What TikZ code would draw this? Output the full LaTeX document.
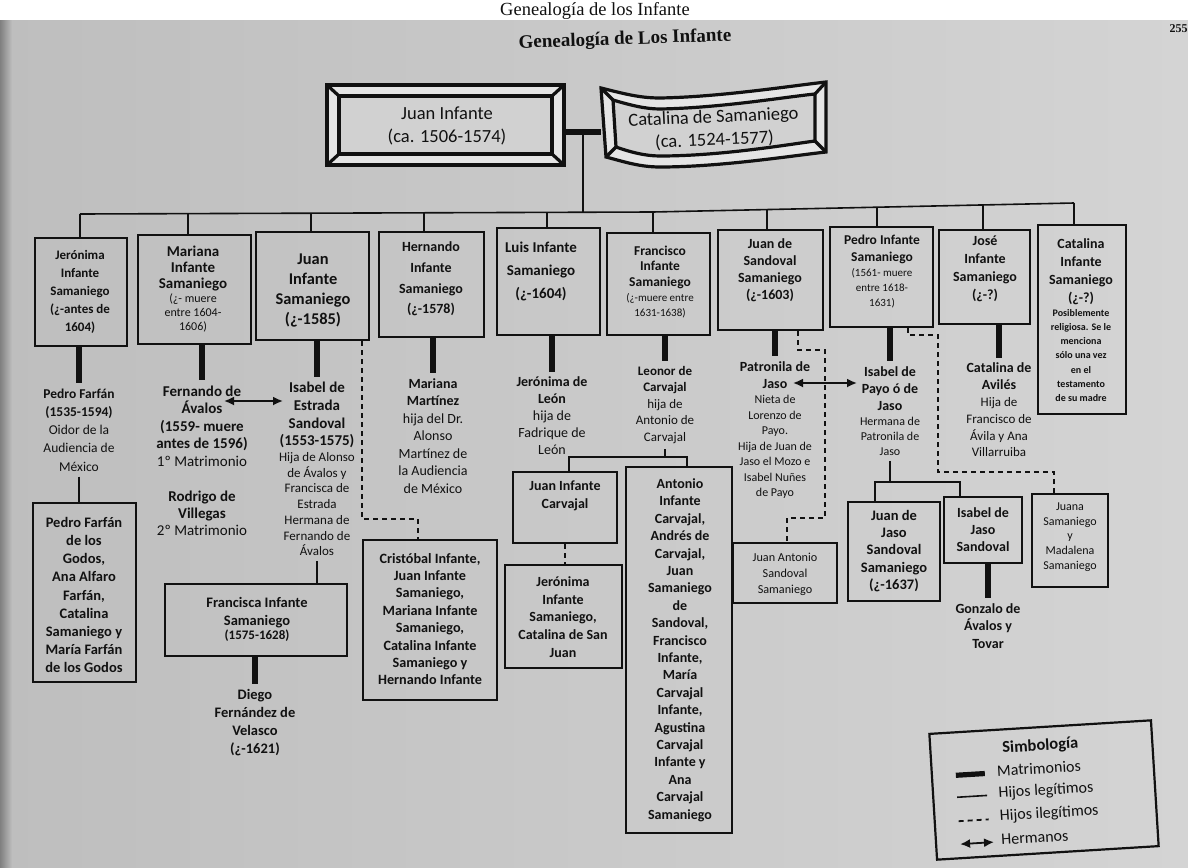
\documentclass[tikz,border=0pt]{standalone}
\usepackage{fontspec}
\setmainfont{Carlito}
\newfontfamily\capserif{Liberation Serif}
\usetikzlibrary{fit,arrows.meta}
\newcommand\myfs[2]{\fontsize{#1pt}{#2pt}\selectfont}
\definecolor{bgl}{HTML}{BEBEBE}
\definecolor{bgr}{HTML}{D4D4D4}
\definecolor{ink}{HTML}{111111}
\begin{document}
\begin{tikzpicture}[x=0.5pt,y=-0.5pt,
  bx/.style={draw=ink,line width=1.1pt,inner sep=0pt},
  tx/.style={align=flush center,text width=75pt,inner sep=2.5pt,font=\bfseries,text=ink},
  leg/.style={draw=ink,line width=0.8pt},
  mat/.style={draw=ink,line width=2.6pt},
  ileg/.style={draw=ink,line width=0.9pt,dash pattern=on 2.5pt off 2pt},
  her/.style={draw=ink,line width=0.9pt,{Latex[length=5pt,width=4.5pt]}-{Latex[length=5pt,width=4.5pt]}},
  frame/.style={draw=ink,line width=1.6pt,line join=miter}]
\useasboundingbox (0,0) rectangle (1188,867);
\fill[white] (0,0) rectangle (1188,867);
\shade[left color=bgl,right color=bgr] (0,20) rectangle (1188,867);
\shade[left color=black!50,right color=bgl] (0,20) rectangle (12,867);

% captions
\node[font=\capserif\myfs{9.25}{11},anchor=base,inner sep=0pt,text=ink] (cap) at (595,15) {Genealogía de los Infante};
\node[font=\capserif\bfseries\myfs{6}{7},anchor=east,inner sep=0pt,text=ink] (pg) at (1188,29) {255};
\node[font=\capserif\bfseries\myfs{9.5}{11},rotate=2,inner sep=0pt,text=ink] (title) at (625,40) {Genealogía de Los Infante};

% parents: Juan Infante
\fill[white!90!black] (327,85) rectangle (564,165);
\fill[white!82!black] (339,96) rectangle (552,154);
\node[frame,fit={(327,85) (564,165)},inner sep=0pt] (p1) {};
\draw[frame] (339,96) rectangle (552,154);
\draw[frame] (327,85) -- (339,96) (564,85) -- (552,96) (564,165) -- (552,154) (327,165) -- (339,154);
\node[tx,font=\mdseries,text width=110pt] (p1t) at (447,126) {\myfs{9.25}{11.5}Juan Infante\\(ca. 1506-1574)\par};

% parents: Catalina de Samaniego
\node[inner sep=0pt,fit={(601,82) (826,167)}] (p2) {};
\filldraw[frame,fill=white!90!black] (601,88) .. controls (625,94) and (640,98) .. (660,98) .. controls (720,97) and (790,86) .. (826,82) -- (826,152) .. controls (790,156) and (720,167) .. (660,167) .. controls (640,167) and (625,162) .. (606,157) -- cycle;
\filldraw[frame,fill=white!82!black] (613,100) .. controls (630,105) and (645,109) .. (660,109) .. controls (720,108) and (785,97) .. (815,94) -- (815,141) .. controls (785,145) and (720,156) .. (660,156) .. controls (645,156) and (630,152) .. (616,147) -- cycle;
\draw[frame] (601,88) -- (613,100) (826,82) -- (815,94) (826,152) -- (815,141) (606,157) -- (616,147);
\node[tx,font=\mdseries,text width=110pt,rotate=2.5] (p2t) at (714,129) {\myfs{9.25}{11.5}Catalina de Samaniego\\(ca. 1524-1577)\par};

% bar coordinates
\coordinate (pm) at (583,132);
\coordinate (bt) at (583,212.2);
\coordinate (d1) at (80,214);
\coordinate (d2) at (188,213.6);
\coordinate (d3) at (311,213.2);
\coordinate (d4) at (424,212.8);
\coordinate (d5) at (547,212.4);
\coordinate (d6) at (653,212);
\coordinate (d7) at (767,209.6);
\coordinate (d8) at (877,207.2);
\coordinate (d9) at (983,204.9);
\coordinate (d10) at (1074,203);

% children boxes
\node[bx,fit={(35,238) (127,346)}] (c1) {};
\node[tx] (t1) at (80,292) {\myfs{6.5}{9}Jerónima\\Infante\\Samaniego\\(¿-antes de\\1604)\par};
\node[bx,fit={(138,235) (251,344)}] (c2) {};
\node[tx] (t2) at (193,289) {\myfs{7.5}{8}Mariana\\Infante\\Samaniego\\\mdseries\myfs{6}{7}(¿- muere\\entre 1604-\\1606)\par};
\node[bx,fit={(256,232) (369,340)}] (c3) {};
\node[tx] (t3) at (313,291) {\myfs{8.2}{10}Juan\\Infante\\Samaniego\\(¿-1585)\par};
\node[bx,fit={(379,232) (484,337)}] (c4) {};
\node[tx] (t4) at (431,279) {\myfs{7}{10.3}Hernando\\Infante\\Samaniego\\(¿-1578)\par};
\node[bx,fit={(497,228) (600,335)}] (c5) {};
\node[tx] (t5) at (541,271) {\myfs{7.5}{11.5}Luis Infante\\Samaniego\\(¿-1604)\par};
\node[bx,fit={(607,233) (710,335)}] (c6) {};
\node[tx] (t6) at (660,282) {\myfs{6.75}{7.75}Francisco\\Infante\\Samaniego\\\mdseries\myfs{5.5}{7.5}(¿-muere entre\\1631-1638)\par};
\node[bx,fit={(718,230) (823,330)}] (c7) {};
\node[tx] (t7) at (770,270) {\myfs{7}{8.5}Juan de\\Sandoval\\Samaniego\\(¿-1603)\par};
\node[bx,fit={(830,227) (933,327)}] (c8) {};
\node[tx] (t8) at (882,272) {\myfs{6.75}{8.5}Pedro Infante\\Samaniego\\\mdseries\myfs{5.5}{7.5}(1561- muere\\entre 1618-\\1631)\par};
\node[bx,fit={(939,230) (1030,324)}] (c9) {};
\node[tx] (t9) at (985,269) {\myfs{7}{9}José\\Infante\\Samaniego\\(¿-?)\par};
\node[bx,fit={(1038,225) (1126,414)}] (c10) {};
\node[tx] (t10) at (1081,320) {\myfs{7}{9}Catalina\\Infante\\Samaniego\\(¿-?)\\\myfs{5}{7.1}Posiblemente\\religiosa. Se le\\menciona\\sólo una vez\\en el\\testamento\\de su madre\par};

% spouses
\node[tx] (s1) at (79,430) {\myfs{6.75}{9.1}Pedro Farfán\\(1535-1594)\\\mdseries Oidor de la\\Audiencia de\\México\par};
\node[tx] (s2) at (202,426) {\myfs{7.5}{8.75}Fernando de\\Ávalos\\(1559- muere\\antes de 1596)\\\mdseries 1º Matrimonio\par};
\node[tx] (s2b) at (202,513) {\myfs{7.5}{8.5}Rodrigo de\\Villegas\\\mdseries 2º Matrimonio\par};
\node[tx] (s3) at (317,469) {\myfs{7.5}{8.85}Isabel de\\Estrada\\Sandoval\\(1553-1575)\\\mdseries\myfs{6.5}{7.85}Hija de Alonso\\de Ávalos y\\Francisca de\\Estrada\\Hermana de\\Fernando de\\Ávalos\par};
\node[tx] (s4) at (433,436) {\myfs{7}{8.75}Mariana\\Martínez\\\mdseries hija del Dr.\\Alonso\\Martínez de\\la Audiencia\\de México\par};
\node[tx] (s5) at (552,416) {\myfs{7}{8.5}Jerónima de\\León\\\mdseries hija de\\Fadrique de\\León\par};
\node[tx] (s6) at (665,405) {\myfs{6.5}{8.25}Leonor de\\Carvajal\\\mdseries hija de\\Antonio de\\Carvajal\par};
\node[tx] (s7) at (775,430) {\myfs{7}{8.5}Patronila de\\Jaso\\\mdseries\myfs{6}{7.75}Nieta de\\Lorenzo de\\Payo.\\Hija de Juan de\\Jaso el Mozo e\\Isabel Nuñes\\de Payo\par};
\node[tx] (s8) at (890,411) {\myfs{7}{8.5}Isabel de\\Payo ó de\\Jaso\\\mdseries\myfs{6}{7.5}Hermana de\\Patronila de\\Jaso\par};
\node[tx] (s9) at (999,410) {\myfs{7}{8.4}Catalina de\\Avilés\\\mdseries\myfs{6.5}{8.4}Hija de\\Francisco de\\Ávila y Ana\\Villarruiba\par};
\node[tx] (s10) at (255,723) {\myfs{7.25}{9}Diego\\Fernández de\\Velasco\\(¿-1621)\par};
\node[tx] (s11) at (988,626) {\myfs{7}{8.75}Gonzalo de\\Ávalos y\\Tovar\par};

% grandchildren
\node[bx,fit={(33,503) (136,682)}] (g1) {};
\node[tx] (u1) at (84,595) {\myfs{7.25}{9.05}Pedro Farfán\\de los\\Godos,\\Ana Alfaro\\Farfán,\\Catalina\\Samaniego y\\María Farfán\\de los Godos\par};
\node[bx,fit={(165,584) (347,656)}] (g2) {};
\node[tx] (u2) at (257,619) {\myfs{7.25}{9}Francisca Infante\\Samaniego\\\myfs{6.5}{7}(1575-1628)\par};
\node[bx,fit={(363,540) (497,700)}] (g3) {};
\node[tx] (u3) at (430,619) {\myfs{7.1}{8.7}Cristóbal Infante,\\Juan Infante\\Samaniego,\\Mariana Infante\\Samaniego,\\Catalina Infante\\Samaniego y\\Hernando Infante\par};
\node[bx,fit={(513,472) (617,543)}] (g4) {};
\node[tx] (u4) at (565,496) {\myfs{7}{9}Juan Infante\\Carvajal\par};
\node[bx,fit={(626,467) (732,833)}] (g5) {};
\node[tx] (u5) at (680,650) {\myfs{7}{8.7}Antonio\\Infante\\Carvajal,\\Andrés de\\Carvajal,\\Juan\\Samaniego\\de\\Sandoval,\\Francisco\\Infante,\\María\\Carvajal\\Infante,\\Agustina\\Carvajal\\Infante y\\Ana\\Carvajal\\Samaniego\par};
\node[bx,fit={(505,565) (622,668)}] (g6) {};
\node[tx] (u6) at (563,617) {\myfs{7}{8.85}Jerónima\\Infante\\Samaniego,\\Catalina de San\\Juan\par};
\node[bx,fit={(733,543) (837,603)}] (g7) {};
\node[tx] (u7) at (785,574) {\mdseries\myfs{6.1}{8}Juan Antonio\\Sandoval\\Samaniego\par};
\node[bx,fit={(848,502) (940,601)}] (g8) {};
\node[tx] (u8) at (894,551) {\myfs{7.25}{8.6}Juan de\\Jaso\\Sandoval\\Samaniego\\(¿-1637)\par};
\node[bx,fit={(944,497) (1022,563)}] (g9) {};
\node[tx] (u9) at (983,530) {\myfs{7}{8.5}Isabel de\\Jaso\\Sandoval\par};
\node[bx,fit={(1032,494) (1108,587)}] (g10) {};
\node[tx] (u10) at (1070,537) {\mdseries\myfs{6}{7.4}Juana\\Samaniego\\y\\Madalena\\Samaniego\par};

% parents' marriage and descent bar
\draw[mat] (p1.east |- pm) -- (p2.west |- pm);
\draw[leg] (pm) -- (bt);
\draw[leg] (d1) -- (d6) -- (d10);
\foreach \i in {1,...,10} \draw[leg] (d\i) -- (d\i |- c\i.north);

% marriages
\foreach \a/\b in {c1/s1,c2/s2,c3/s3,c4/s4,c5/s5,c6/s6,c7/s7,c8/s8,c9/s9,g2/s10,g9/s11}
  \draw[mat] (\a.south -| \b.north) -- (\b.north);

% legitimate children
\draw[leg] (s1.south) -- (s1.south |- g1.north);
\draw[leg] (s3.south) -- (s3.south |- g2.north);
\coordinate (lb1) at (569,457);
\coordinate (lb2) at (687,457);
\draw[leg] (s6.south) -- (s6.south |- lb1);
\draw[leg] (lb1 |- g4.north) -- (lb1) -- (lb2) -- (lb2 |- g5.north);
\coordinate (ib1) at (875,482);
\coordinate (ib2) at (960,482);
\draw[leg] (s8.south) -- (s8.south |- ib1);
\draw[leg] (ib1 |- g8.north) -- (ib1) -- (ib2) -- (ib2 |- g9.north);

% illegitimate children
\coordinate (jd1) at (362,519);
\coordinate (jd2) at (418,519);
\draw[ileg] (c3.south -| jd1) -- (jd1) -- (jd2) -- (jd2 |- g3.north);
\draw[ileg] (g4.south) -- (g4.south |- g6.north);
\coordinate (sd1) at (798,350);
\coordinate (sd2) at (825,350);
\coordinate (sd3) at (825,518);
\coordinate (sd4) at (787,518);
\draw[ileg] (c7.south -| sd1) -- (sd1) -- (sd2) -- (sd3) -- (sd4) -- (sd4 |- g7.north);
\coordinate (pd1) at (908,335);
\coordinate (pd2) at (938,335);
\coordinate (pd3) at (938,472);
\coordinate (pd4) at (1054,472);
\draw[ileg] (c8.south -| pd1) -- (pd1) -- (pd2) -- (pd3) -- (pd4) -- (pd4 |- g10.north);

% siblings
\coordinate (a1) at (224,401);
\coordinate (a2) at (283,401);
\draw[her] (a1) -- (a2);
\coordinate (a3) at (793,383);
\coordinate (a4) at (857,383);
\draw[her] (a3) -- (a4);

% legend
\begin{scope}[rotate around={3.5:(1044,790)}]
\node[draw=ink,line width=1.1pt,minimum width=111pt,minimum height=63pt,inner sep=0pt,transform shape] (lg) at (1044,790) {};
\node[font=\bfseries,text=ink,inner sep=0pt,transform shape] (lt) at (1043,746) {\myfs{8.25}{10}Simbología};
\node[anchor=west,inner sep=0pt,text=ink,transform shape] (l1) at (998,768) {\myfs{8}{10}Matrimonios};
\node[anchor=west,inner sep=0pt,text=ink,transform shape] (l2) at (998,791) {\myfs{8}{10}Hijos legítimos};
\node[anchor=west,inner sep=0pt,text=ink,transform shape] (l3) at (998,814) {\myfs{8}{10}Hijos ilegítimos};
\node[anchor=west,inner sep=0pt,text=ink,transform shape] (l4) at (998,837) {\myfs{8}{10}Hermanos};
\coordinate (k1a) at (957,770); \coordinate (k1b) at (986,770);
\coordinate (k2a) at (957,792); \coordinate (k2b) at (987,792);
\coordinate (k3a) at (957,816); \coordinate (k3b) at (987,816);
\coordinate (k4a) at (957,839); \coordinate (k4b) at (991,839);
\draw[mat] (k1a) -- (k1b);
\draw[leg] (k2a) -- (k2b);
\draw[ileg] (k3a) -- (k3b);
\draw[her] (k4a) -- (k4b);
\end{scope}
\end{tikzpicture}
\end{document}
